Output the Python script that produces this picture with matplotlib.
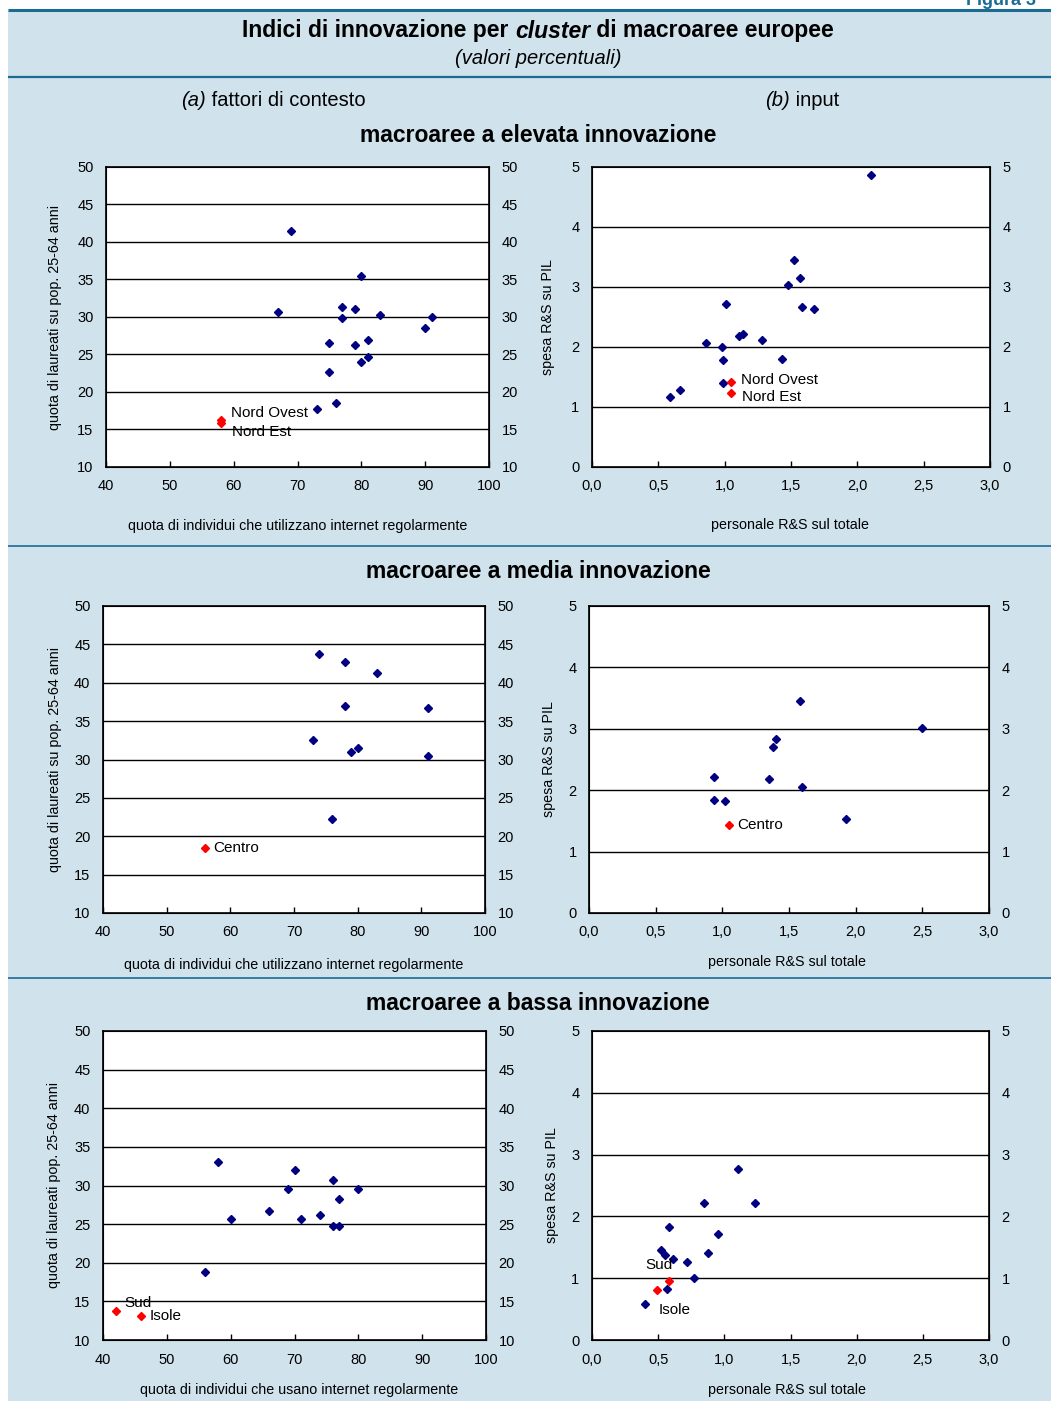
import matplotlib.pyplot as plt
from matplotlib.patches import Rectangle

plt.rcParams['font.family'] = ['Liberation Sans', 'DejaVu Sans']

# --- dati: macroaree a elevata innovazione ---
alta_ctx_x = [69, 80, 67, 77, 79, 77, 83, 91, 90, 75, 79, 81, 81, 80, 75, 76, 73]
alta_ctx_y = [41.5, 35.4, 30.7, 31.3, 31.0, 29.8, 30.2, 30.0, 28.5, 26.5, 26.2, 26.9, 24.6, 24.0, 22.7, 18.5, 17.7]
alta_ctx_it_x = [58, 58]
alta_ctx_it_y = [16.3, 15.8]
alta_inp_x = [2.10, 1.52, 1.57, 1.48, 1.58, 1.67, 1.01, 1.11, 1.14, 1.28, 0.86, 0.98, 0.99, 1.43, 0.99, 0.66, 0.59]
alta_inp_y = [4.86, 3.45, 3.15, 3.04, 2.67, 2.63, 2.72, 2.18, 2.22, 2.12, 2.06, 2.00, 1.78, 1.80, 1.40, 1.29, 1.16]
alta_inp_it_x = [1.05, 1.05]
alta_inp_it_y = [1.41, 1.24]
alta_nomi = ['Nord Ovest', 'Nord Est']

# --- dati: macroaree a media innovazione ---
media_ctx_x = [74, 78, 83, 78, 91, 73, 80, 79, 91, 76]
media_ctx_y = [43.7, 42.7, 41.3, 37.0, 36.7, 32.6, 31.5, 31.0, 30.4, 22.3]
media_ctx_it_x = [56]
media_ctx_it_y = [18.5]
media_inp_x = [1.58, 2.50, 1.40, 1.38, 0.94, 1.35, 1.60, 0.94, 1.02, 1.93]
media_inp_y = [3.46, 3.01, 2.84, 2.71, 2.21, 2.18, 2.05, 1.84, 1.82, 1.53]
media_inp_it_x = [1.05]
media_inp_it_y = [1.43]
media_nomi = ['Centro']

# --- dati: macroaree a bassa innovazione ---
bassa_ctx_x = [58, 70, 76, 69, 80, 77, 66, 74, 60, 71, 76, 77, 56]
bassa_ctx_y = [33.1, 32.0, 30.7, 29.5, 29.5, 28.3, 26.7, 26.2, 25.7, 25.7, 24.8, 24.8, 18.8]
bassa_ctx_it_x = [42, 46]
bassa_ctx_it_y = [13.8, 13.1]
bassa_inp_x = [1.10, 0.85, 1.23, 0.58, 0.95, 0.52, 0.55, 0.88, 0.61, 0.72, 0.77, 0.57, 0.40]
bassa_inp_y = [2.77, 2.21, 2.21, 1.83, 1.72, 1.45, 1.38, 1.40, 1.31, 1.27, 1.00, 0.82, 0.59]
bassa_inp_it_x = [0.58, 0.49]
bassa_inp_it_y = [0.95, 0.81]
bassa_nomi = ['Sud', 'Isole']

ctx_xticks = [40, 50, 60, 70, 80, 90, 100]
ctx_yticks = [10, 15, 20, 25, 30, 35, 40, 45, 50]
inp_xticks = [0.0, 0.5, 1.0, 1.5, 2.0, 2.5, 3.0]
inp_xlabels = ['0,0', '0,5', '1,0', '1,5', '2,0', '2,5', '3,0']
inp_yticks = [0, 1, 2, 3, 4, 5]

W, H = 1051, 1401
sfondo = '#d0e2ec'
blu = '#1b6b93'
navy = '#000080'

fig = plt.figure(figsize=(W / 100, H / 100), dpi=100, facecolor='white')
bg = fig.add_axes([0, 0, 1, 1])
bg.set_xlim(0, W)
bg.set_ylim(H, 0)
bg.axis('off')
bg.set_zorder(-1)
bg.add_patch(Rectangle((8, 10), W - 8, H - 10, facecolor=sfondo, edgecolor='none'))
for y, lw in [(10, 2.2), (77, 1.6), (546, 1.2), (978, 1.2)]:
    bg.plot([8, W], [y, y], color=blu, lw=lw, solid_capstyle='butt')

# "Figura 3" tagliata in alto come nell'originale
bg.text(966, 5, 'Figura 3', color=blu, fontsize=13, weight='bold', ha='left', va='baseline')


def mixedLine(parts, xc, y, size):
    r = fig.canvas.get_renderer()
    texts = []
    for s, style, weight in parts:
        texts.append(bg.text(0, y, s, fontsize=size, style=style, weight=weight, ha='left', va='center'))
    widths = [t.get_window_extent(r).width for t in texts]
    x = xc - sum(widths) / 2
    for t, w in zip(texts, widths):
        t.set_x(x)
        x += w


mixedLine([('Indici di innovazione per ', 'normal', 'bold'), ('cluster', 'italic', 'bold'),
           (' di macroaree europee', 'normal', 'bold')], 538, 31, 16.5)
bg.text(538, 58, '(valori percentuali)', fontsize=14.5, style='italic', ha='center', va='center')
mixedLine([('(a)', 'italic', 'normal'), (' fattori di contesto', 'normal', 'normal')], 273, 101, 14.5)
mixedLine([('(b)', 'italic', 'normal'), (' input', 'normal', 'normal')], 802, 101, 14.5)
bg.text(538, 136, 'macroaree a elevata innovazione', fontsize=16.5, weight='bold', ha='center', va='center')
bg.text(538, 571, 'macroaree a media innovazione', fontsize=16.5, weight='bold', ha='center', va='center')
bg.text(538, 1003, 'macroaree a bassa innovazione', fontsize=16.5, weight='bold', ha='center', va='center')


def plotPanel(box, xs, ys, rxs, rys, nomi, offs, xticks, xlabels, yticks, xlabel, xlab_pos, ylabel, ylab_x):
    l, t, r, b = box
    ax = fig.add_axes([l / W, 1 - b / H, (r - l) / W, (b - t) / H])
    ax.set_facecolor('white')
    ax.set_xlim(xticks[0], xticks[-1])
    ax.set_ylim(yticks[0], yticks[-1])
    for y in yticks[1:-1]:
        ax.axhline(y, color='black', lw=1, zorder=1)
    ax.plot(xs, ys, 'D', ms=4.1, color=navy, mec=navy, zorder=3)
    ax.plot(rxs, rys, 'D', ms=4.1, color='red', mec='red', zorder=3)
    for x, y, n, o in zip(rxs, rys, nomi, offs):
        ax.annotate(n, (x, y), xytext=o, textcoords='offset points', fontsize=11,
                    ha='left', va='center', zorder=4)
    ax.set_xticks(xticks)
    ax.set_xticklabels(xlabels)
    ax.set_yticks(yticks)
    ax.tick_params(axis='x', direction='in', length=4, width=1, pad=9, labelsize=10.5)
    ax.tick_params(axis='y', length=0, pad=9, labelsize=10.5)
    for s in ax.spines.values():
        s.set_linewidth(1.2)
    tw = ax.twinx()
    tw.set_ylim(yticks[0], yticks[-1])
    tw.set_yticks(yticks)
    tw.tick_params(axis='y', length=0, pad=9, labelsize=10.5)
    bg.text(xlab_pos[0], xlab_pos[1], xlabel, fontsize=10.3, ha='center', va='center')
    bg.text(ylab_x, (t + b) / 2, ylabel, fontsize=10.3, rotation=90, ha='center', va='center')
    return ax


ylab_ctx = 'quota di laureati su pop. 25-64 anni'
ylab_ctx3 = 'quota di laureati pop. 25-64 anni'
ylab_inp = 'spesa R&S su PIL'
xlab_ctx = 'quota di individui che utilizzano internet regolarmente'
xlab_ctx3 = 'quota di individui che usano internet regolarmente'
xlab_inp = 'personale R&S sul totale'

plotPanel((106, 167, 489, 467), alta_ctx_x, alta_ctx_y, alta_ctx_it_x, alta_ctx_it_y, alta_nomi,
          [(7, 5), (8, -6)], ctx_xticks, ctx_xticks, ctx_yticks, xlab_ctx, (298, 526), ylab_ctx, 55)
plotPanel((592, 167, 990, 467), alta_inp_x, alta_inp_y, alta_inp_it_x, alta_inp_it_y, alta_nomi,
          [(7, 1.5), (8, -3)], inp_xticks, inp_xlabels, inp_yticks, xlab_inp, (790, 525), ylab_inp, 548)
plotPanel((103, 606, 485, 913), media_ctx_x, media_ctx_y, media_ctx_it_x, media_ctx_it_y, media_nomi,
          [(6, 0)], ctx_xticks, ctx_xticks, ctx_yticks, xlab_ctx, (294, 965), ylab_ctx, 55)
plotPanel((589, 606, 989, 913), media_inp_x, media_inp_y, media_inp_it_x, media_inp_it_y, media_nomi,
          [(6, 0)], inp_xticks, inp_xlabels, inp_yticks, xlab_inp, (787, 962), ylab_inp, 549)
plotPanel((103, 1031, 486, 1340), bassa_ctx_x, bassa_ctx_y, bassa_ctx_it_x, bassa_ctx_it_y, bassa_nomi,
          [(6, 5.5), (6, 0)], ctx_xticks, ctx_xticks, ctx_yticks, xlab_ctx3, (299, 1390), ylab_ctx3, 54)
plotPanel((592, 1031, 989, 1340), bassa_inp_x, bassa_inp_y, bassa_inp_it_x, bassa_inp_it_y, bassa_nomi,
          [(-17, 11.5), (1.5, -14.5)], inp_xticks, inp_xlabels, inp_yticks, xlab_inp, (787, 1390), ylab_inp, 552)

fig.savefig('out.png', dpi=100, facecolor=fig.get_facecolor())
